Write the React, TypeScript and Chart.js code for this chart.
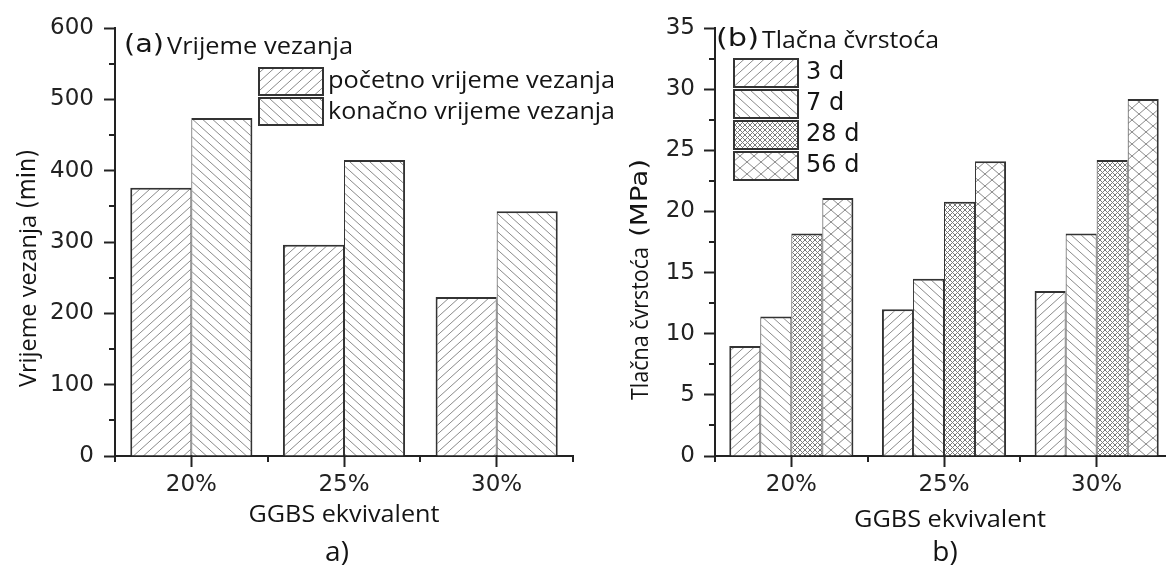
import React, { useEffect, useRef } from 'react';
import { Chart, registerables } from 'chart.js';

Chart.register(...registerables);

// ---------- data ----------
const categories = ['20%', '25%', '30%'];
const settingLabels = ['početno vrijeme vezanja', 'konačno vrijeme vezanja'];
const initialSetting = [376, 296, 223];
const finalSetting = [474, 415, 343];

const strengthLabels = ['3 d', '7 d', '28 d', '56 d'];
const strength3d = [9.0, 12.0, 13.5];
const strength7d = [11.4, 14.5, 18.2];
const strength28d = [18.2, 20.8, 24.2];
const strength56d = [21.1, 24.1, 29.2];

const leftMinorTicks = [50, 150, 250, 350, 450, 550];
const rightMinorTicks = [2.5, 7.5, 12.5, 17.5, 22.5, 27.5, 32.5];

// ---------- styles ----------
const AXIS = '#222';
const TEXT = '#141414';
const TICK_FONT = { family: 'DejaVu Sans', size: 23 };
const OS = (s: number) => `${s}px "Open Sans"`;
const DV = (s: number) => `${s}px "DejaVu Sans"`;

type Kind = 'fwd' | 'back' | 'fine' | 'cross';

function makePattern(ctx: CanvasRenderingContext2D, kind: Kind): CanvasPattern {
  const spec: Record<Kind, { w: number; h: number; dirs: string[]; color: string }> = {
    fwd: { w: 10, h: 9, dirs: ['/'], color: '#8a8a8a' },
    back: { w: 10, h: 9, dirs: ['\\'], color: '#8a8a8a' },
    fine: { w: 5, h: 5, dirs: ['/', '\\'], color: '#7a7a7a' },
    cross: { w: 14, h: 12, dirs: ['/', '\\'], color: '#8a8a8a' },
  };
  const { w, h, dirs, color } = spec[kind];
  const c = document.createElement('canvas');
  c.width = w;
  c.height = h;
  const g = c.getContext('2d')!;
  g.fillStyle = '#fff';
  g.fillRect(0, 0, w, h);
  g.strokeStyle = color;
  g.lineWidth = 1;
  for (const d of dirs) {
    for (const k of [-1, 0, 1]) {
      g.beginPath();
      if (d === '/') {
        g.moveTo(0, h + k * h);
        g.lineTo(w, k * h);
      } else {
        g.moveTo(0, k * h);
        g.lineTo(w, h + k * h);
      }
      g.stroke();
    }
  }
  return ctx.createPattern(c, 'repeat')!;
}

function drawText(
  ctx: CanvasRenderingContext2D,
  text: string,
  x: number,
  y: number,
  font: string,
  width?: number,
  align: CanvasTextAlign = 'left'
) {
  ctx.save();
  ctx.font = font;
  ctx.fillStyle = TEXT;
  ctx.textBaseline = 'middle';
  ctx.textAlign = align;
  const m = ctx.measureText(text).width;
  const sx = width ? width / m : 1;
  ctx.translate(x, y);
  ctx.scale(sx, 1);
  ctx.fillText(text, 0, 0);
  ctx.restore();
}

function drawVertical(
  ctx: CanvasRenderingContext2D,
  text: string,
  cx: number,
  startY: number,
  font: string,
  length: number
) {
  ctx.save();
  ctx.font = font;
  ctx.fillStyle = TEXT;
  ctx.textBaseline = 'middle';
  ctx.textAlign = 'left';
  const m = ctx.measureText(text).width;
  ctx.translate(cx, startY);
  ctx.rotate(-Math.PI / 2);
  ctx.scale(length / m, 1);
  ctx.fillText(text, 0, 0);
  ctx.restore();
}

function drawMinorTicks(chart: any, minor: number[]) {
  const ctx: CanvasRenderingContext2D = chart.ctx;
  const { left, bottom } = chart.chartArea;
  const ys = chart.scales.y;
  const xs = chart.scales.x;
  ctx.save();
  ctx.strokeStyle = AXIS;
  ctx.lineWidth = 2;
  for (const v of minor) {
    const py = Math.round(ys.getPixelForValue(v));
    ctx.beginPath();
    ctx.moveTo(left - 6, py);
    ctx.lineTo(left, py);
    ctx.stroke();
  }
  for (let i = 0; i <= categories.length; i++) {
    const px = Math.round(xs.getPixelForValue(i - 0.5));
    ctx.beginPath();
    ctx.moveTo(px, bottom);
    ctx.lineTo(px, bottom + 6);
    ctx.stroke();
  }
  ctx.restore();
}

function legendBox(ctx: CanvasRenderingContext2D, fill: CanvasPattern, x: number, y: number, w: number, h: number) {
  ctx.save();
  ctx.fillStyle = fill;
  ctx.fillRect(x, y, w, h);
  ctx.strokeStyle = '#333';
  ctx.lineWidth = 2;
  ctx.strokeRect(x, y, w, h);
  ctx.restore();
}

function borderFor(i: number, n: number) {
  return { top: 2, bottom: 0, left: i === 0 ? 2 : 1, right: i === n - 1 ? 2 : 1 };
}

function axes(max: number, step: number, yWidth: number, yPad: number) {
  return {
    x: {
      type: 'category' as const,
      grid: { offset: false, drawOnChartArea: false, tickLength: 11, tickWidth: 2, tickColor: AXIS },
      border: { color: AXIS, width: 2 },
      ticks: { font: TICK_FONT, color: '#222', padding: 4, maxRotation: 0 },
      afterFit: (s: any) => {
        s.height = 111;
      },
    },
    y: {
      min: 0,
      max,
      grid: { drawOnChartArea: false, tickLength: 11, tickWidth: 2, tickColor: AXIS },
      border: { color: AXIS, width: 2 },
      ticks: { stepSize: step, font: TICK_FONT, color: '#222', padding: yPad },
      afterFit: (s: any) => {
        s.width = yWidth;
      },
    },
  };
}

export default function App() {
  const leftRef = useRef<HTMLCanvasElement>(null);
  const rightRef = useRef<HTMLCanvasElement>(null);

  useEffect(() => {
    const lc = leftRef.current!;
    const rc = rightRef.current!;
    const lctx = lc.getContext('2d')!;
    const rctx = rc.getContext('2d')!;

    const leftPats = [makePattern(lctx, 'fwd'), makePattern(lctx, 'back')];
    const rightPats = [
      makePattern(rctx, 'fwd'),
      makePattern(rctx, 'back'),
      makePattern(rctx, 'fine'),
      makePattern(rctx, 'cross'),
    ];

    const leftSeries = [initialSetting, finalSetting];
    const rightSeries = [strength3d, strength7d, strength28d, strength56d];

    const left = new Chart(lc, {
      type: 'bar',
      data: {
        labels: categories,
        datasets: leftSeries.map((d, i) => ({
          label: settingLabels[i],
          data: d,
          backgroundColor: leftPats[i],
          borderColor: '#333',
          borderWidth: borderFor(i, leftSeries.length),
          borderSkipped: 'start',
          categoryPercentage: 0.8,
          barPercentage: 1,
        })),
      },
      options: {
        animation: false,
        responsive: true,
        maintainAspectRatio: false,
        layout: { padding: { left: 0, top: 28, right: 67, bottom: 0 } },
        plugins: { legend: { display: false }, tooltip: { enabled: false }, title: { display: false } },
        scales: axes(600, 100, 115, 10) as any,
      },
      plugins: [
        {
          id: 'leftExtras',
          afterDraw(chart: any) {
            const ctx = chart.ctx as CanvasRenderingContext2D;
            drawMinorTicks(chart, leftMinorTicks);
            drawText(ctx, '(a)', 124, 46, DV(24), 40);
            drawText(ctx, 'Vrijeme vezanja', 167, 47, OS(23), 186);
            legendBox(ctx, leftPats[0], 259, 68, 64, 27);
            legendBox(ctx, leftPats[1], 259, 98, 64, 27);
            drawText(ctx, settingLabels[0], 328, 81, OS(23), 287);
            drawText(ctx, settingLabels[1], 328, 112, OS(23), 287);
            drawVertical(ctx, 'Vrijeme vezanja', 29, 387, OS(23), 172);
            drawVertical(ctx, '(min)', 29, 209, DV(24), 60);
            drawText(ctx, 'GGBS ekvivalent', 344, 515, OS(23), 191, 'center');
            drawText(ctx, 'a)', 337, 553, OS(28), undefined, 'center');
          },
        },
      ],
    });

    const right = new Chart(rc, {
      type: 'bar',
      data: {
        labels: categories,
        datasets: rightSeries.map((d, i) => ({
          label: strengthLabels[i],
          data: d,
          backgroundColor: rightPats[i],
          borderColor: '#333',
          borderWidth: borderFor(i, rightSeries.length),
          borderSkipped: 'start',
          categoryPercentage: 0.813,
          barPercentage: 1,
        })),
      },
      options: {
        animation: false,
        responsive: true,
        maintainAspectRatio: false,
        layout: { padding: { left: 0, top: 28, right: 47, bottom: 0 } },
        plugins: { legend: { display: false }, tooltip: { enabled: false }, title: { display: false } },
        scales: axes(35, 5, 115, 9) as any,
      },
      plugins: [
        {
          id: 'rightExtras',
          afterDraw(chart: any) {
            const ctx = chart.ctx as CanvasRenderingContext2D;
            drawMinorTicks(chart, rightMinorTicks);
            drawText(ctx, '(b)', 116, 40, DV(24), 43);
            drawText(ctx, 'Tlačna čvrstoća', 162, 41, OS(23), 177);
            const boxY = [59, 90, 121, 152];
            boxY.forEach((y, i) => {
              legendBox(ctx, rightPats[i], 134, y, 64, 28);
              drawText(ctx, strengthLabels[i], 206, y + 14, DV(24));
            });
            drawVertical(ctx, 'Tlačna čvrstoća', 41, 400, OS(23), 153);
            drawVertical(ctx, '(MPa)', 41, 237, DV(23), 78);
            drawText(ctx, 'GGBS ekvivalent', 350, 520, OS(23), 192, 'center');
            drawText(ctx, 'b)', 345, 553, OS(28), undefined, 'center');
          },
        },
      ],
    });

    return () => {
      left.destroy();
      right.destroy();
    };
  }, []);

  return (
    <div
      style={{
        position: 'absolute',
        left: 0,
        top: 0,
        width: 1166,
        height: 567,
        overflow: 'hidden',
        background: '#fff',
      }}
    >
      <div style={{ position: 'absolute', left: 0, top: 0, width: 640, height: 567 }}>
        <canvas ref={leftRef} />
      </div>
      <div style={{ position: 'absolute', left: 600, top: 0, width: 620, height: 567 }}>
        <canvas ref={rightRef} />
      </div>
    </div>
  );
}
